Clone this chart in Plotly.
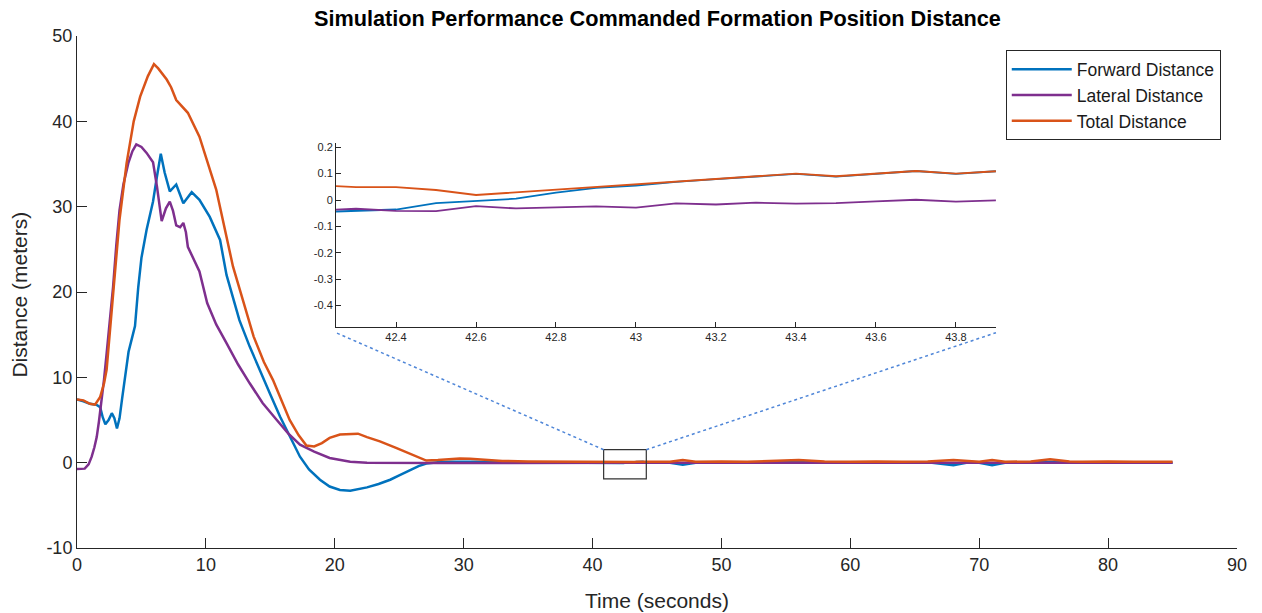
import plotly.graph_objects as go

# ---------------- data ----------------
series_names = ["Forward Distance", "Lateral Distance", "Total Distance"]
series_colors = ["#0072BD", "#7E2F8E", "#D95319"]

# Forward distance
fwd_t = [0, 0.5, 1.0, 1.5, 1.8, 2.0, 2.2, 2.45, 2.7, 2.9, 3.1, 3.3, 3.5, 3.8, 4.0, 4.3, 4.5,
         4.75, 5.0, 5.4, 5.9, 6.2, 6.5, 6.8, 7.2, 7.7, 8.25, 8.9, 9.5, 10.3, 11.1, 11.6, 12.6,
         13.4, 14.2, 15.0, 15.75, 16.5, 17.3, 18.0, 18.85, 19.6, 20.4, 21.2, 22.0, 22.5, 23.4,
         24.3, 25.0, 25.8, 26.5, 27.1, 28, 29, 30, 31, 32, 34, 36, 38, 40, 42]
fwd_v = [7.4, 7.2, 6.9, 6.8, 6.5, 5.3, 4.5, 5.0, 5.8, 5.2, 4.0, 5.2, 7.5, 11.0, 13.0, 14.8, 16.0,
         20.5, 24.0, 27.3, 30.6, 33.5, 36.2, 34.0, 31.8, 32.6, 30.4, 31.7, 30.8, 28.8, 26.1, 22.0, 16.7,
         13.6, 10.9, 8.0, 5.4, 3.2, 0.7, -0.8, -2.0, -2.8, -3.2, -3.3, -3.1, -2.9, -2.5,
         -2.0, -1.5, -0.9, -0.4, -0.1, 0.05, 0.1, 0.12, 0.1, 0.05, 0.02, 0.0, -0.05, 0.0, -0.03]
fwd_t_tail = [44, 46, 47, 48, 50, 52, 54, 56, 58, 60, 62, 64, 66, 68, 69, 70, 71, 72, 74, 76, 78, 80, 82, 84, 85]
fwd_v_tail = [0.05, 0.0, -0.25, 0.0, 0.05, 0.0, 0.05, 0.1, 0.0, 0.05, 0.0, 0.0, 0.05, -0.3, 0.0, 0.0, -0.3, 0.0, 0.05, 0.1, 0.0, 0.0, 0.05, 0.0, 0.0]

# Lateral distance
lat_t = [0, 0.6, 0.9, 1.14, 1.35, 1.53, 1.7, 1.9, 2.1, 2.3, 2.55, 2.8, 3.05, 3.3, 3.6, 3.98, 4.3,
         4.6, 5.0, 5.4, 5.9, 6.2, 6.57, 6.9, 7.2, 7.45, 7.7, 8.0, 8.25, 8.45, 8.6, 9.0, 9.5,
         10.1, 10.8, 11.6, 12.5, 13.4, 14.4, 15.5, 16.4, 17.3, 18.4, 19.6, 20.5, 21.2, 22.5,
         25, 28, 30, 32, 34, 36, 38, 40, 42]
lat_v = [-0.75, -0.7, -0.2, 0.7, 1.8, 3.0, 4.8, 7.0, 9.8, 12.8, 16.5, 20.6, 25.5, 29.6, 32.6, 35.1, 36.5,
         37.3, 37.0, 36.3, 35.2, 32.4, 28.3, 29.8, 30.6, 29.5, 27.8, 27.6, 28.1, 27.0, 25.3, 24.0, 22.4,
         18.7, 16.2, 14.0, 11.5, 9.3, 7.0, 5.0, 3.4, 2.1, 1.3, 0.55, 0.25, 0.1, 0.0,
         -0.05, -0.05, -0.03, -0.04, -0.03, -0.04, -0.03, -0.03, -0.03]
lat_t_tail = [44, 46, 48, 50, 52, 54, 56, 58, 60, 62, 64, 66, 68, 70, 72, 74, 76, 78, 80, 82, 84, 85]
lat_v_tail = [0.0, -0.02, 0.0, -0.01, 0.0, -0.02, 0.0, -0.01, 0.0, -0.01, 0.0, -0.02, 0.0, -0.01, 0.0, -0.01, 0.0, -0.02, 0.0, -0.01, 0.0, 0.0]

# Total distance
tot_t = [0, 0.5, 1.0, 1.4, 1.8, 2.1, 2.3, 2.6, 2.95, 3.3, 3.85, 4.4, 4.9, 5.5, 5.97, 6.3, 6.96,
         7.3, 7.7, 8.2, 8.6, 9.5, 10.8, 12.1, 13.0, 13.7, 14.5, 15.2, 16.5, 17.2, 17.8, 18.4,
         19.0, 19.6, 20.4, 21.2, 21.8, 22.5, 23.5, 24.8, 26.0, 27.1, 28.0, 29.0, 29.7, 30.5,
         31.8, 33, 35, 37, 40, 42]
tot_v = [7.4, 7.3, 6.9, 6.8, 7.7, 9.3, 10.9, 16.0, 22.6, 28.5, 35.1, 40.0, 42.9, 45.3, 46.7, 46.2, 44.9,
         44.0, 42.5, 41.7, 41.0, 38.2, 32.0, 23.0, 18.3, 14.8, 11.8, 9.7, 5.0, 3.2, 2.0, 1.9,
         2.3, 2.9, 3.3, 3.4, 3.4, 3.0, 2.5, 1.7, 0.9, 0.25, 0.3, 0.45, 0.5, 0.45,
         0.3, 0.2, 0.15, 0.12, 0.1, 0.06]
tot_t_tail = [44, 46, 47, 48, 50, 52, 54, 56, 58, 60, 62, 64, 66, 68, 70, 71, 72, 74, 75.5, 77, 78, 80, 82, 84, 85]
tot_v_tail = [0.12, 0.1, 0.3, 0.1, 0.15, 0.1, 0.2, 0.3, 0.15, 0.1, 0.15, 0.1, 0.15, 0.3, 0.1, 0.3, 0.1, 0.15, 0.4, 0.15, 0.1, 0.15, 0.1, 0.15, 0.1]

# Detail (inset) samples, 42.2 s .. 43.9 s
inset_t = [42.2, 42.3, 42.4, 42.5, 42.6, 42.7, 42.8, 42.9, 43.0, 43.1, 43.2, 43.3, 43.4, 43.5, 43.6, 43.7, 43.8, 43.9]
inset_fwd = [-0.046, -0.041, -0.036, -0.012, -0.004, 0.005, 0.028, 0.046, 0.055, 0.069, 0.079, 0.089, 0.099, 0.089, 0.099, 0.110, 0.099, 0.109]
inset_lat = [-0.040, -0.033, -0.041, -0.042, -0.023, -0.032, -0.028, -0.024, -0.029, -0.013, -0.017, -0.010, -0.014, -0.012, -0.005, 0.001, -0.006, -0.001]
inset_tot = [0.057, 0.049, 0.049, 0.038, 0.019, 0.029, 0.040, 0.049, 0.060, 0.070, 0.080, 0.090, 0.100, 0.090, 0.100, 0.110, 0.100, 0.109]

main_x_ticks = [0, 10, 20, 30, 40, 50, 60, 70, 80, 90]
main_y_ticks = [-10, 0, 10, 20, 30, 40, 50]
main_y_labels = ["-10", "0", "10", "20", "30", "40", "50"]
inset_x_ticks = [42.4, 42.6, 42.8, 43.0, 43.2, 43.4, 43.6, 43.8]
inset_x_labels = ["42.4", "42.6", "42.8", "43", "43.2", "43.4", "43.6", "43.8"]
inset_y_ticks = [-0.4, -0.3, -0.2, -0.1, 0, 0.1, 0.2]
inset_y_labels = ["-0.4", "-0.3", "-0.2", "-0.1", "0", "0.1", "0.2"]

# zoom window drawn on the main chart
zoom_x = [40.86, 44.17]
zoom_y = [-1.91, 1.52]

# ---------------- figure ----------------
W, H = 1262, 613
ML, MR, MT, MB = 77, 25, 36, 65
X_RANGE = [0, 90]
Y_RANGE = [-10, 50]
INSET_DOM_X = [0.2233, 0.7922]
INSET_DOM_Y = [0.4322, 0.791]
INSET_X_RANGE = [42.25, 43.9]
INSET_Y_RANGE = [-0.48, 0.216]

FONT = "Liberation Sans, Arial, Helvetica, sans-serif"
AX = "#262626"

fig = go.Figure()

mains = [
    (fwd_t + inset_t + fwd_t_tail, fwd_v + inset_fwd + fwd_v_tail),
    (lat_t + inset_t + lat_t_tail, lat_v + inset_lat + lat_v_tail),
    (tot_t + inset_t + tot_t_tail, tot_v + inset_tot + tot_v_tail),
]
for (xs, ys), name, col in zip(mains, series_names, series_colors):
    fig.add_trace(go.Scatter(x=xs, y=ys, mode="lines", name=name,
                             line=dict(color=col, width=2.5), xaxis="x", yaxis="y"))

for ys, name, col in zip([inset_fwd, inset_lat, inset_tot], series_names, series_colors):
    fig.add_trace(go.Scatter(x=inset_t, y=ys, mode="lines", name=name, showlegend=False,
                             line=dict(color=col, width=1.8), xaxis="x2", yaxis="y2"))

# zoom rectangle
fig.add_shape(type="rect", xref="x", yref="y", x0=zoom_x[0], x1=zoom_x[1], y0=zoom_y[0], y1=zoom_y[1],
              line=dict(color="#333333", width=1.2))

# connector lines: rectangle top corners -> inset bottom corners (in main-axis data coords)
def paper_to_data_x(p):
    return X_RANGE[0] + p * (X_RANGE[1] - X_RANGE[0])

def paper_to_data_y(p):
    return Y_RANGE[0] + p * (Y_RANGE[1] - Y_RANGE[0])

gap = 6 / (H - MT - MB)  # small gap below inset axis
for zx, ix in [(zoom_x[0], INSET_DOM_X[0]), (zoom_x[1], INSET_DOM_X[1])]:
    fig.add_shape(type="line", xref="x", yref="y",
                  x0=zx, y0=zoom_y[1],
                  x1=paper_to_data_x(ix), y1=paper_to_data_y(INSET_DOM_Y[0] - gap),
                  line=dict(color="#4F86D8", width=1.5, dash="dot"))

fig.update_layout(
    width=W, height=H,
    margin=dict(l=ML, r=MR, t=MT, b=MB),
    paper_bgcolor="white", plot_bgcolor="rgba(0,0,0,0)",
    font=dict(family=FONT, color=AX),
    showlegend=True,
    legend=dict(x=0.986, xanchor="right", y=0.972, yanchor="top",
                bgcolor="white", bordercolor=AX, borderwidth=1,
                font=dict(size=17.5, family=FONT, color="#1a1a1a"),
                itemwidth=60, tracegroupgap=0),
    xaxis=dict(range=X_RANGE, tickvals=main_x_ticks, showgrid=False, zeroline=False,
               showline=True, linecolor=AX, linewidth=1, ticks="inside", ticklen=10,
               tickcolor=AX, tickfont=dict(size=18, color=AX), domain=[0, 1]),
    yaxis=dict(range=Y_RANGE, tickvals=main_y_ticks, ticktext=main_y_labels,
               showgrid=False, zeroline=False,
               showline=True, linecolor=AX, linewidth=1, ticks="inside", ticklen=10,
               tickcolor=AX, tickfont=dict(size=18, color=AX), domain=[0, 1]),
    xaxis2=dict(range=INSET_X_RANGE, tickvals=inset_x_ticks, ticktext=inset_x_labels,
                anchor="y2", domain=INSET_DOM_X, showgrid=False, zeroline=False,
                showline=True, linecolor=AX, linewidth=1, ticks="inside", ticklen=5,
                tickcolor=AX, tickfont=dict(size=11, color=AX)),
    yaxis2=dict(range=INSET_Y_RANGE, tickvals=inset_y_ticks, ticktext=inset_y_labels,
                anchor="x2", domain=INSET_DOM_Y,
                showgrid=False, zeroline=False, showline=True, linecolor=AX, linewidth=1,
                ticks="inside", ticklen=5, tickcolor=AX, tickfont=dict(size=11, color=AX)),
    annotations=[
        dict(text="<b>Simulation Performance Commanded Formation Position Distance</b>",
             xref="paper", yref="paper", x=0.5, y=1, yshift=18, xanchor="center", yanchor="middle",
             showarrow=False, font=dict(size=21.7, color="#000000", family=FONT)),
        dict(text="Time (seconds)", xref="paper", yref="paper", x=0.5, y=0, yshift=-52,
             xanchor="center", yanchor="middle", showarrow=False,
             font=dict(size=21, color=AX, family=FONT)),
        dict(text="Distance (meters)", xref="paper", yref="paper", x=0, xshift=-57, y=0.495,
             xanchor="center", yanchor="middle", textangle=-90, showarrow=False,
             font=dict(size=21, color=AX, family=FONT)),
    ],
)

fig.write_html("out.html")
